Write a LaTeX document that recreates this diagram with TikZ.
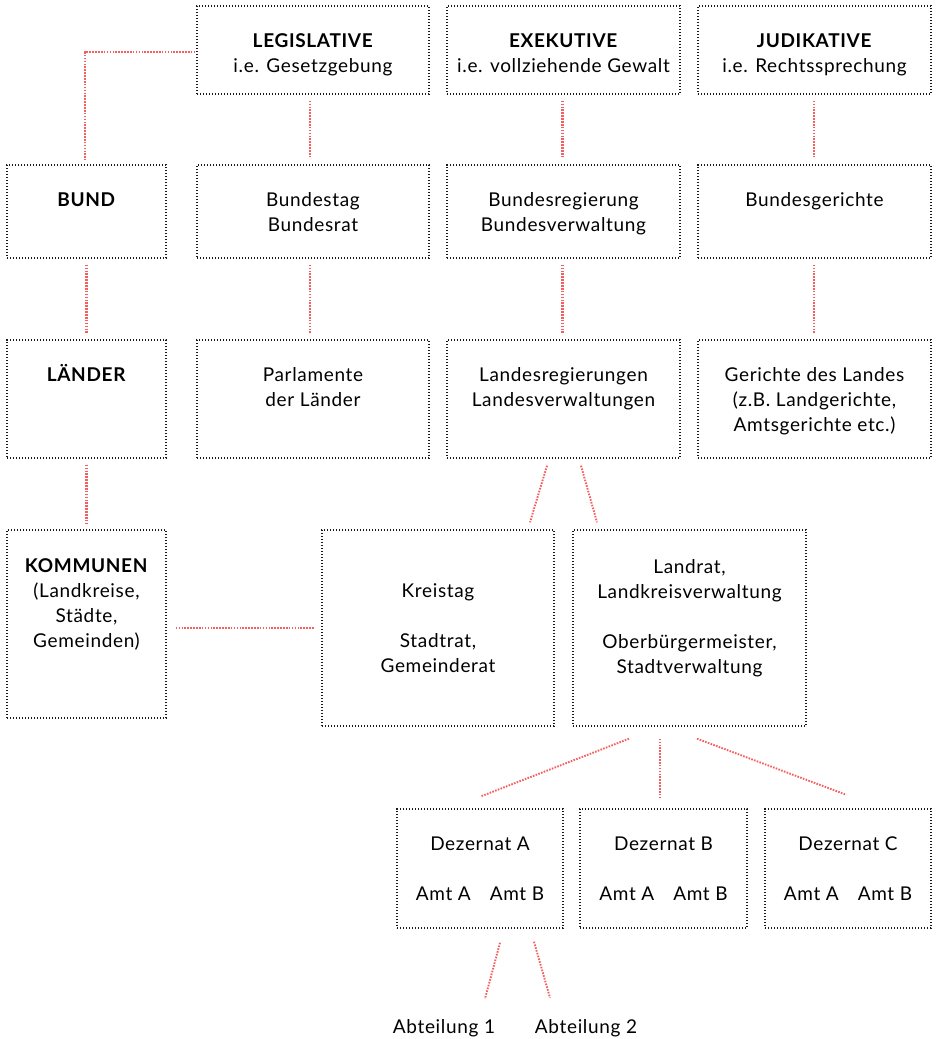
\documentclass[tikz,border=0pt]{standalone}
\usepackage{fontspec}
\setmainfont{Lato}[LetterSpace=3.5]
\definecolor{linkred}{RGB}{244,96,96}
\definecolor{boxblack}{RGB}{25,25,25}
\tikzset{
  box/.style={draw=boxblack, line width=1.4pt, dash pattern=on 1.4pt off 1.6pt, inner sep=0pt, rectangle},
  txt/.style={anchor=north, align=center, inner sep=0pt, font=\fontsize{19}{25}\selectfont, text=black},
  lbl/.style={anchor=base, inner sep=0pt, font=\fontsize{19}{25}\selectfont, text=black},
  link/.style={draw=linkred, line width=1.9pt, dash pattern=on 1.6pt off 1.3pt},
  vlink/.style={link, line width=2.3pt, shorten <=6pt, shorten >=6pt}
}
\newcommand{\mybox}[5]{\node[box,minimum width={#4pt-#2pt},minimum height={#5pt-#3pt}] (#1) at ({(#2+#4)/2},{(#3+#5)/2}) {};}
\newcommand{\mytext}[4]{\node[txt] (#1) at (#2,{#3-17.5}) {\strut #4};}
\begin{document}
\begin{tikzpicture}[x=1pt,y=-1pt]
\useasboundingbox (0,0) rectangle (939,1039);
% boxes
\mybox{leg}{197}{6}{429}{94}
\mybox{exe}{447}{6}{680}{94}
\mybox{jud}{698}{6}{931}{94}
\mybox{bund}{7}{165}{166}{258}
\mybox{btag}{197}{165}{429}{258}
\mybox{breg}{447}{165}{680}{258}
\mybox{bger}{698}{165}{931}{258}
\mybox{laen}{7}{340}{166}{458}
\mybox{parl}{197}{340}{429}{458}
\mybox{lreg}{447}{340}{680}{458}
\mybox{lger}{698}{340}{931}{458}
\mybox{komm}{7}{530}{166}{718}
\mybox{kreis}{322}{530}{554}{726}
\mybox{landr}{573}{530}{806}{726}
\mybox{dezA}{397}{809}{563}{928}
\mybox{dezB}{580}{809}{747}{928}
\mybox{dezC}{765}{809}{931}{928}
% texts
\mytext{legT}{313}{47}{\textbf{LEGISLATIVE}\\i.e. Gesetzgebung}
\mytext{exeT}{563.5}{47}{\textbf{EXEKUTIVE}\\i.e. vollziehende Gewalt}
\mytext{judT}{814.5}{47}{\textbf{JUDIKATIVE}\\i.e. Rechtssprechung}
\mytext{bundT}{86.5}{206}{\textbf{BUND}}
\mytext{btagT}{313}{206}{Bundestag\\Bundesrat}
\mytext{bregT}{563.5}{206}{Bundesregierung\\Bundesverwaltung}
\mytext{bgerT}{814.5}{206}{Bundesgerichte}
\mytext{laenT}{86.5}{381}{\textbf{LÄNDER}}
\mytext{parlT}{313}{381}{Parlamente\\der Länder}
\mytext{lregT}{563.5}{381}{Landesregierungen\\Landesverwaltungen}
\mytext{lgerT}{814.5}{381}{Gerichte des Landes\\(z.B. Landgerichte,\\Amtsgerichte etc.)}
\mytext{kommT}{86.5}{572}{\textbf{KOMMUNEN}\\(Landkreise,\\Städte,\\Gemeinden)}
\mytext{kreisT}{438}{597}{Kreistag\\\strut\\Stadtrat,\\Gemeinderat}
\mytext{landrT}{689.5}{573}{Landrat,\\Landkreisverwaltung\\\strut\\Oberbürgermeister,\\Stadtverwaltung}
\mytext{dezAT}{480}{850}{Dezernat A\\\strut\\Amt A\hspace{1em}Amt B}
\mytext{dezBT}{663.5}{850}{Dezernat B\\\strut\\Amt A\hspace{1em}Amt B}
\mytext{dezCT}{848}{850}{Dezernat C\\\strut\\Amt A\hspace{1em}Amt B}
\node[lbl] (ab1) at (444,1033) {Abteilung 1};
\node[lbl] (ab2) at (586,1033) {Abteilung 2};
% connectors
\draw[link] ([xshift=-1pt,yshift=-2pt]leg.west) -| ([xshift=-1.5pt,yshift=5pt]bund.north);
\draw[vlink] ([xshift=-3pt]leg.south) -- ([xshift=-3pt]btag.north);
\draw[vlink] ([xshift=-1pt]exe.south) -- ([xshift=-1pt]breg.north);
\draw[vlink] ([xshift=-0.5pt]jud.south) -- ([xshift=-0.5pt]bger.north);
\draw[vlink] (bund.south) -- (laen.north);
\draw[vlink] ([xshift=-3pt]btag.south) -- ([xshift=-3pt]parl.north);
\draw[vlink] ([xshift=-1pt]breg.south) -- ([xshift=-1pt]lreg.north);
\draw[vlink] ([xshift=-0.5pt]bger.south) -- ([xshift=-0.5pt]lger.north);
\draw[vlink] (laen.south) -- (komm.north);
\draw[link, shorten <=9pt, shorten >=7pt] (kreis.west -| komm.east) -- (kreis.west);
\draw[link] ([xshift=-16.5pt,yshift=-7pt]lreg.south) -- ([xshift=92pt,yshift=7pt]kreis.north);
\draw[link] ([xshift=17.5pt,yshift=-7pt]lreg.south) -- ([xshift=-92.5pt,yshift=7pt]landr.north);
\draw[link] ([xshift=-60.5pt,yshift=-12pt]landr.south) -- ([xshift=1pt,yshift=12pt]dezA.north);
\draw[vlink, shorten <=0pt, shorten >=0pt] ([xshift=-29.5pt,yshift=-12pt]landr.south) -- ([xshift=-3.5pt,yshift=11pt]dezB.north);
\draw[link] ([xshift=7.5pt,yshift=-12pt]landr.south) -- ([xshift=-3pt,yshift=14pt]dezC.north);
\draw[link] ([xshift=20pt,yshift=-14pt]dezA.south) -- ([xshift=41pt,yshift=20pt]ab1.north);
\draw[link] ([xshift=54pt,yshift=-13pt]dezA.south) -- ([xshift=-36pt,yshift=21pt]ab2.north);
\end{tikzpicture}
\end{document}
